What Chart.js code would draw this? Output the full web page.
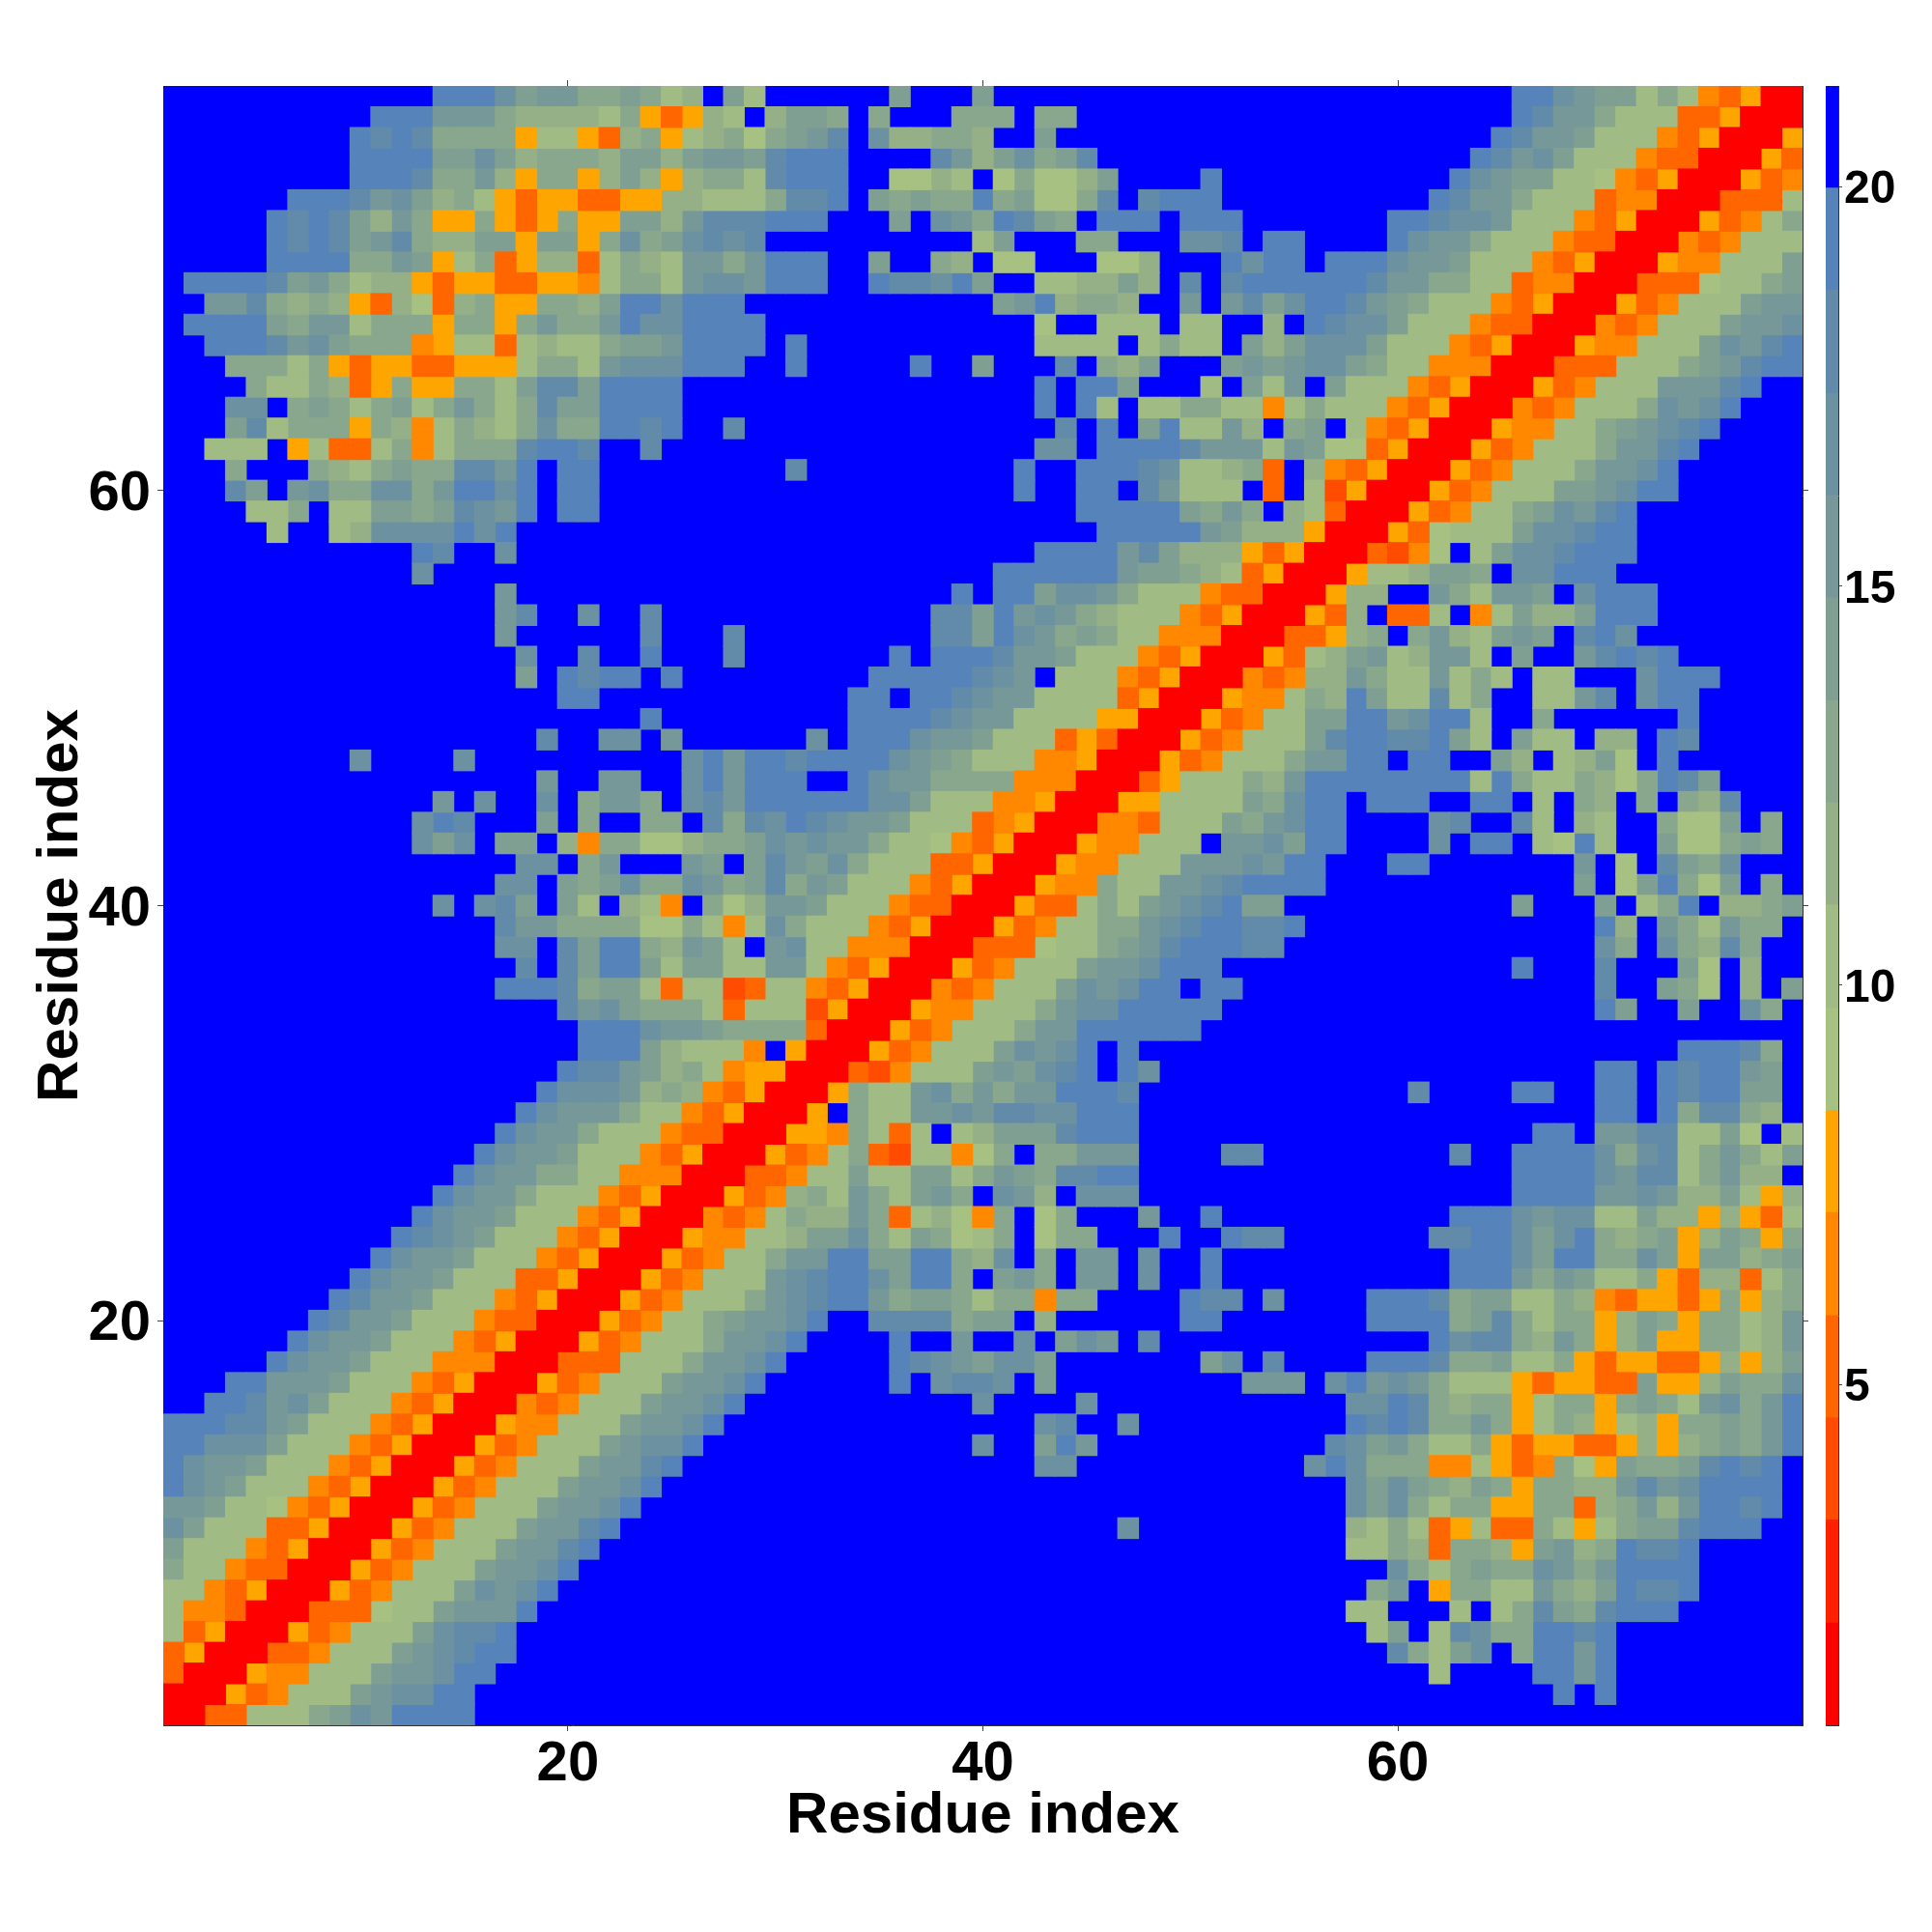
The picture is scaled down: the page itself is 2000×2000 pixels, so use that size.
<!DOCTYPE html>
<html>
<head>
<meta charset="utf-8">
<title>Residue distance map</title>
<script src="https://cdn.jsdelivr.net/npm/chart.js@4/dist/chart.umd.js"></script>
<style>
  body { margin: 0; background: #fff; }
  canvas { position: absolute; top: 0; }
  #map-chart { left: 0; }
  #bar-chart { left: 1880px; }
</style>
</head>
<body>
<canvas id="map-chart" width="1880" height="2000"></canvas>
<canvas id="bar-chart" width="120" height="2000"></canvas>
<script>
// colour bins, lowest distance first (one char per bin in the rows below)
const levelKeys = '0123456789abcdef';
const levelEdges = [0.73, 2.01, 3.3, 4.58, 5.86, 7.15, 8.43, 9.71, 11, 12.28, 13.56, 14.85, 16.13, 17.41, 18.7, 19.98, 21.26];
const levelColors = ['#ff0000', '#ff2000', '#ff4c00', '#ff6600', '#ff8800', '#ffa500',
  '#a7c182', '#a0bb84', '#95b087', '#89a78d', '#7f9f93', '#769898', '#6c91a0', '#628aa9', '#5583ba', '#0000ff'];

const axisTicks = [20, 40, 60];
const barTicks = [5, 10, 15, 20];
const axisTitle = 'Residue index';

// map is symmetric, so rows hold residue 1..y only, top row is y = 79
const upperRows = [
  'ffffffffff fffeeecabb 99a978fa7f fffffafffa ffffffffff ffffffffff fffffeecba a79743500',
  'ffffffffff eeebbb9888 87953587f8 aa9f9fff99 9f99ffffff ffffffffff fffffedbb9 77733500',
  'fffffffffe ded9999577 5389578969 abdfc88998 ffafffffff ffffffffff ffffedbba7 7743500',
  'fffffffffe eeeaaca899 98aa8abbad eeeffffdb8 ac9adfffff ffffffffff fffedbca77 743300',
  'fffffffffe eed99b8599 58a858997d eeeff6687f 69668affff efffffffff ffecbaa776 43500',
  'ffffffeeed bca8975355 3355887779 ddefa9a99e 9a669dfdee efffffffff fedbb97773 4400',
  'fffffededa 8b95595359 55aa8bddde eefffafcb9 eda9feeefe eefffffffe edccb77743 500',
  'fffffededa bd988aa5aa 59c9acdcdf fffffffff7 afff99fffc cdfeeffffe cbb9777433 00',
  'fffffeeee9 9ba5793588 37987bb9be eeffaff98f 66fff668ff feceefeeec bba7774350 0',
  'feeeedab97 8853553355 47997bccbe eeffeddcea ff7788a8fd fdeeeeeedb b997734400',
  'ffbbd98985 3863895599 8aeeceeeff ffffffffff abe8998ffb fbdaceedba 977743500',
  'feeeea9bb7 99959959b9 9becceeeef ffffffffff ff6ff777f7 7ff8fedcca 77743300',
  'ffeeedbca9 9945773787 79aabeeeef efffffffff ff7777f797 7fa8accca7 7743500',
  'fff9997953 5533555799 7bccceeeff efffffeffa fffdf98aff fababcca97 744400',
  'ffff977983 5955997add aeeeefffff ffffffffff ffefeeafff 7fa7bfa777 43500',
  'fffccf9a97 9a79b979da aeeeefffff ffffffffff ffefe7f779 9774797774 3500',
  'fffad79995 98479879c9 9eedeffdff ffffffffff fffdfefae7 7b8f9af743 500',
  'ff777f5733 7947999dee dffdffffff ffffffffff ffccfeeeed bbb7ba6635 00',
  'fff9fff987 9a99ddbefe efffffffff dfffffffff feffeeedc7 7893f84350 0',
  'fffdafbc99 cc9beecefe efffffffff ffffffffff feffeefdb7 77f3f72500',
  'ffff779f77 aa9adcbefe efffffffff ffffffffff ffffeeeeea 9b9f87300',
  'fffff7ff78 ccccecefff ffffffffff ffffffffff fffffeeeee ba888500',
  'ffffffffff ffedffcfff ffffffffff ffffffffff ffeeeebda8 8853500',
  'ffffffffff ffcfffffff ffffffffff ffffffffff eeeeeebaa9 873500',
  'ffffffffff ffffffbfff ffffffffff ffffffffef eeaccb9777 43300',
  'ffffffffff ffffffbdff cffdffffff fffffffdda ebcb987774 3500',
  'ffffffffff ffffffbfff fffdfffdff fffffffdda ecb9a97744 400',
  'ffffffffff fffffffcff dffefffdff fffffefeee dbba777435 00',
  'ffffffffff fffffffafe deefefffff ffffeeeeed cbf7774350 0',
  'ffffffffff fffffffffe efffffffff fffeefeedc bb77773500',
  'ffffffffff ffffffffff fffeffffff fffeeeedcb b77775500',
  'ffffffffff ffffffffdf fccfbfffff fcfeeecbba 77735300',
  'fffffffffc ffffcfffff fffffcebee deeeecba97 7744500',
  'ffffffffff ffffffffbf fbbffcebee effecbb999 944400',
  'ffffffffff fffbfcffcf 9bb9fcdbee eeeecca777 44500',
  'ffffffffff ffcedfffaf 9ff99fd9dc edcbba7773 4500',
  'ffffffffff ffcacfaaf8 49966899ac bcbb977643 500',
  'ffffffffff fffffffccf 9bfffbafad bac9777335 00',
  'ffffffffff ffffffccfa 9ac99cb9ad 9ba7774350 0',
  'ffffffffff fffcfcdafa 7f874f968b ba77743300',
  'ffffffffff ffffffdbb9 999669747c 977743500',
  'ffffffffff ffffffccfd aee98ba7fb c7744400',
  'ffffffffff fffffffdfd aeea7aa77b b743500',
  'ffffffffff ffffffeeed 9aa7377237 743500',
  'ffffffffff fffffffffd bca9997377 72500',
  'ffffffffff ffffffffff eeecbba999 9300',
  'ffffffffff ffffffffff eeea87774f 500',
  'ffffffffff fffffffffe ddba897455 00',
  'ffffffffff ffffffffec ccb8984350 0',
  'ffffffffff fffffffecb bb97743500',
  'ffffffffff ffffffecbb 977743300',
  'ffffffffff fffffecbba 77743500',
  'ffffffffff ffffecbb99 7744400',
  'ffffffffff fffecbb977 743500',
  'ffffffffff ffecbba777 43500',
  'ffffffffff fedcba7774 3500',
  'ffffffffff ecbba77743 500',
  'fffffffffe cbba777335 00',
  'ffffffffed bba7774350 0',
  'fffffffedb ba77743300',
  'ffffffecbb a77743500',
  'fffffecbba 77744400',
  'fffeebbba7 7743500',
  'ffeedbca77 743500',
  'eeeddba777 43500',
  'eeccca7774 3500',
  'ecbba77743 500',
  'ecba777435 00',
  'bba7764350 0',
  'ca77733500',
  'a77743500',
  '97743300',
  '7743500',
  '744300',
  '73500',
  '3500',
  '300',
  '00',
  '0'
];

const rows = upperRows.map(r => r.replace(/ /g, ''));
const size = rows.length;

function levelAt(x, y) {
  // x <= y is what the rows store, the other half mirrors it
  const hi = Math.max(x, y);
  const lo = Math.min(x, y);
  return levelKeys.indexOf(rows[size - hi][lo - 1]);
}

// one dataset per colour bin, each cell is a floating bar
const cellsByLevel = levelColors.map(() => []);
for (let y = 1; y <= size; y++) {
  for (let x = 1; x <= size; x++) {
    cellsByLevel[levelAt(x, y)].push({ x: x, y: [y - 0.5, y + 0.5] });
  }
}

const tickFont = { family: '"Liberation Sans"', size: 58, weight: 'bold' };
const titleFont = { family: '"Liberation Sans"', size: 60, weight: 'bold' };
const barFont = { family: '"Liberation Sans"', size: 48, weight: 'bold' };
const frame = { display: true, color: '#333', width: 1 };

function placeTicks(values) {
  return scale => { scale.ticks = values.map(v => ({ value: v })); };
}

function mapAxis(position, opts) {
  return Object.assign({
    type: 'linear',
    position: position,
    min: 0.5,
    max: size + 0.5,
    offset: false,
    border: frame,
    grid: { offset: false, drawOnChartArea: false, color: '#444', tickLength: 6, tickWidth: 1 },
    ticks: { display: false },
    afterBuildTicks: placeTicks(axisTicks)
  }, opts);
}

new Chart(document.getElementById('map-chart'), {
  type: 'bar',
  data: {
    datasets: cellsByLevel.map((cells, i) => ({
      label: levelEdges[i] + '-' + levelEdges[i + 1],
      data: cells,
      backgroundColor: levelColors[i],
      borderWidth: 0,
      inflateAmount: 0.5,
      barPercentage: 1,
      categoryPercentage: 1
    }))
  },
  options: {
    responsive: false,
    animation: false,
    devicePixelRatio: 1,
    layout: { padding: 0 },
    plugins: { legend: { display: false }, tooltip: { enabled: false } },
    scales: {
      x: mapAxis('bottom', {
        stacked: true,
        ticks: { display: true, color: '#000', font: tickFont, padding: 0, maxRotation: 0, autoSkip: false, callback: v => v },
        title: { display: true, text: axisTitle, color: '#000', font: titleFont, padding: { top: 0, bottom: 84 } },
        afterFit: s => { s.height = 214; }
      }),
      y: mapAxis('left', {
        ticks: { display: true, color: '#000', font: tickFont, padding: 7, labelOffset: 4, autoSkip: false, callback: v => v },
        title: { display: true, text: axisTitle, color: '#000', font: titleFont, padding: { top: 27, bottom: 0 } },
        afterFit: s => { s.width = 169; }
      }),
      xTop: mapAxis('top', { afterFit: s => { s.height = 89; } }),
      yRight: mapAxis('right', { afterFit: s => { s.width = 14; } })
    }
  }
});

// colour bar on its own canvas
new Chart(document.getElementById('bar-chart'), {
  type: 'bar',
  data: {
    labels: [''],
    datasets: levelColors.map((c, i) => ({
      data: [[levelEdges[i], levelEdges[i + 1]]],
      backgroundColor: c,
      borderWidth: 0,
      inflateAmount: 0.5,
      barPercentage: 1,
      categoryPercentage: 1
    }))
  },
  options: {
    responsive: false,
    animation: false,
    devicePixelRatio: 1,
    layout: { padding: { left: 10, top: 89, bottom: 214, right: 0 } },
    plugins: { legend: { display: false }, tooltip: { enabled: false } },
    scales: {
      x: {
        stacked: true,
        border: frame,
        grid: { display: false },
        ticks: { display: false },
        afterFit: s => { s.height = 0; }
      },
      barTop: {
        axis: 'x',
        type: 'category',
        position: 'top',
        border: frame,
        grid: { display: false },
        ticks: { display: false },
        afterFit: s => { s.height = 0; }
      },
      y: {
        position: 'right',
        min: levelEdges[0],
        max: levelEdges[levelEdges.length - 1],
        border: frame,
        grid: { drawOnChartArea: false, color: '#444', tickLength: 4, tickWidth: 1 },
        ticks: { color: '#000', font: barFont, padding: 2, labelOffset: 4, autoSkip: false, callback: v => v },
        afterBuildTicks: placeTicks(barTicks),
        afterFit: s => { s.width = 97; }
      },
      barLeft: {
        axis: 'y',
        type: 'linear',
        position: 'left',
        border: frame,
        grid: { display: false },
        ticks: { display: false },
        afterFit: s => { s.width = 0; }
      }
    }
  }
});
</script>
</body>
</html>
